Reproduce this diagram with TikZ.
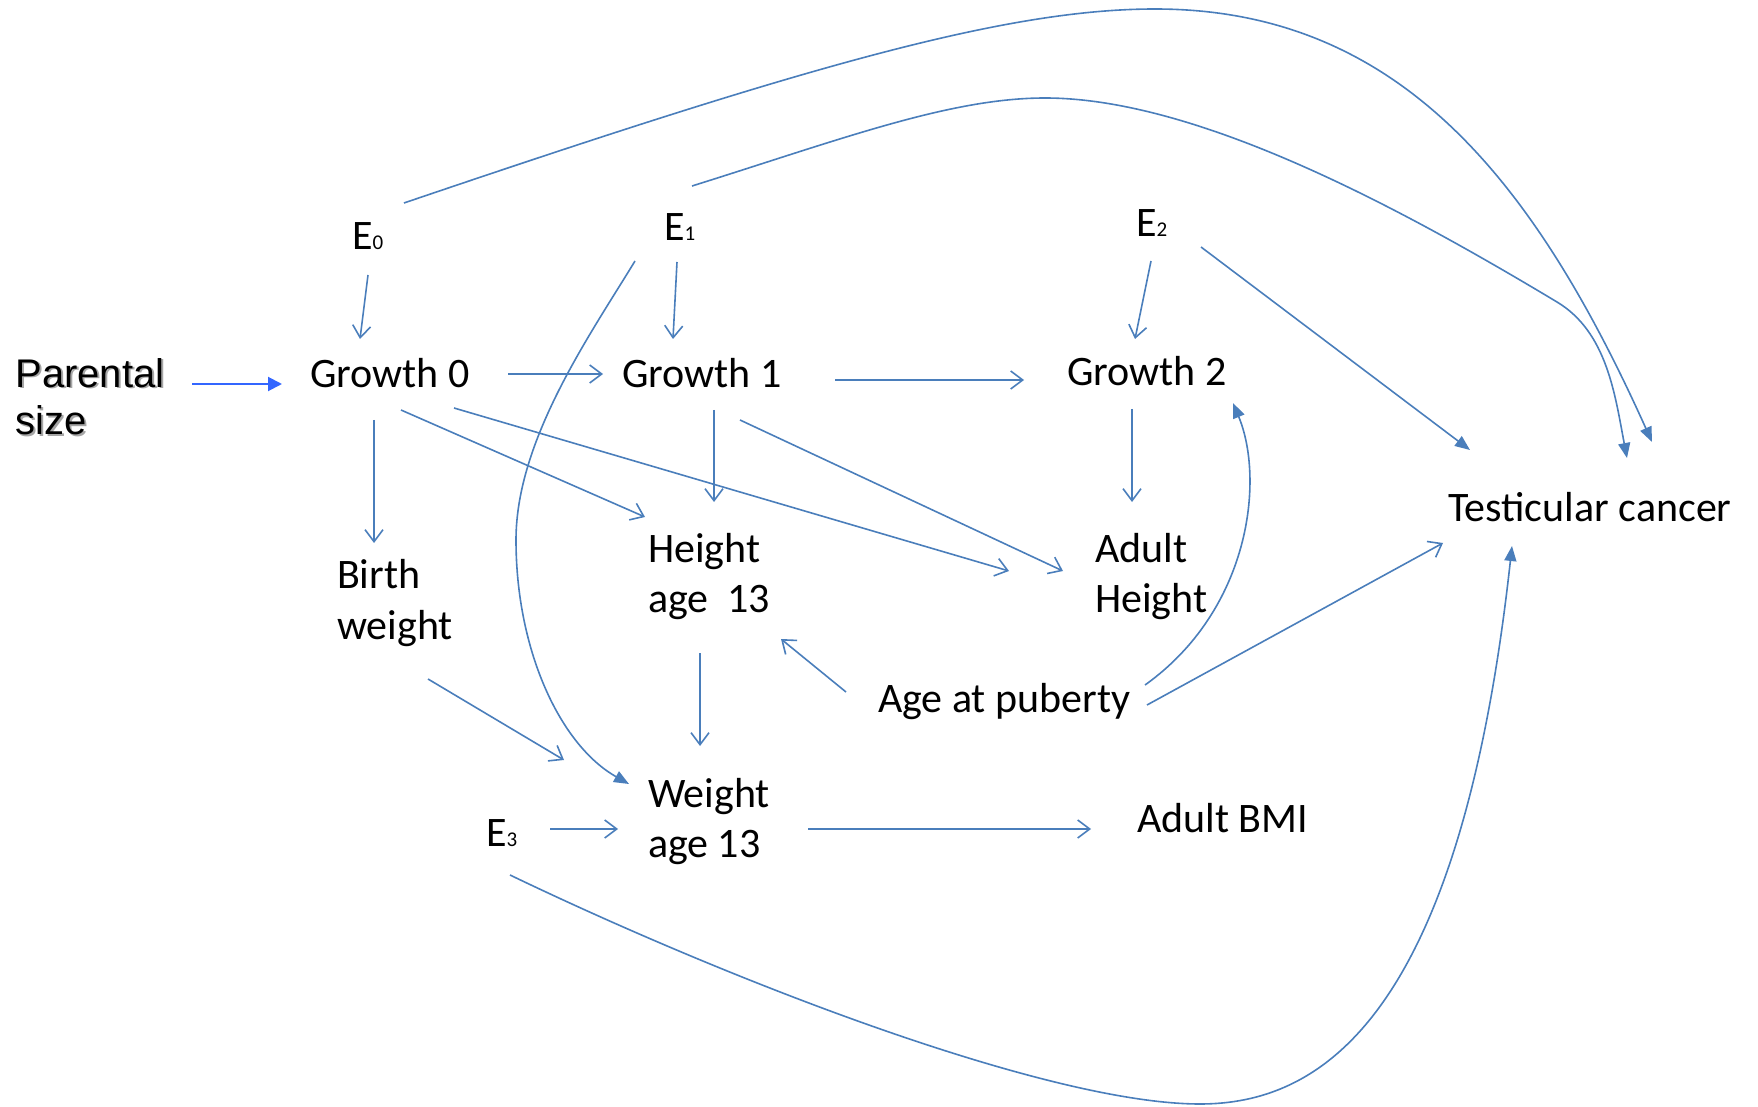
\documentclass[tikz,border=0pt]{standalone}
\usepackage{fontspec}
\setmainfont{Carlito}
\newfontfamily\arialfont{Liberation Sans}
\usetikzlibrary{arrows.meta}
\definecolor{linkblue}{HTML}{4A7EBB}
\definecolor{brightblue}{HTML}{3366FF}
% E with a small index digit sitting on the baseline
\newcommand{\Eidx}[1]{E{\fontsize{10.5}{12}\selectfont #1}}
\tikzset{
  lbl/.style={anchor=base west, inner sep=0pt, outer sep=0pt, align=left,
              font=\fontsize{21}{25}\selectfont},
  link/.style={draw=linkblue, line width=0.8pt},
  openarr/.style={link, -{Straight Barb[length=6pt,width=9pt]}},
  fillarr/.style={link, -{Triangle[length=7.5pt,width=6pt]}},
}
\begin{document}
\begin{tikzpicture}[x=0.5pt,y=-0.5pt]
\useasboundingbox (0,0) rectangle (1758,1107);

% ---- labels (two-line labels are placed at the baseline of their last line)
\node[anchor=base west, inner sep=0pt, align=left, text=black!35,
      font=\arialfont\fontsize{20}{24}\selectfont] at (17,437) {Parental\\size};
\node[anchor=base west, inner sep=0pt, align=left,
      font=\arialfont\fontsize{20}{24}\selectfont] (par) at (15,435) {Parental\\size};

\node[lbl] (e0) at (352,250) {\Eidx{0}};
\node[lbl] (e1) at (664,241) {\Eidx{1}};
\node[lbl] (e2) at (1136,237) {\Eidx{2}};
\node[lbl] (e3) at (486,846) {\Eidx{3}};

\node[lbl] (g0) at (310,387) {Growth 0};
\node[lbl] (g1) at (622,387) {Growth 1};
\node[lbl] (g2) at (1067,386) {Growth 2};

\node[lbl] (bw)  at (337,639) {Birth\\weight};
\node[lbl] (h13) at (648,612) {Height\\age\ \ 13};
\node[lbl] (ah)  at (1095,612) {Adult\\Height};
\node[lbl] (ap)  at (878,712) {Age at puberty};
\node[lbl] (w13) at (648,857) {Weight\\age 13};
\node[lbl] (bmi) at (1137,832) {Adult BMI};
\node[lbl] (tc)  at (1448,522) {Testicular cancer};

% ---- connector end points ----------------------------------------
\coordinate (par-o) at (192,384);  \coordinate (g0-i) at (282,384);
\coordinate (e0-o) at (368,275);   \coordinate (g0-t) at (360,339);
\coordinate (g0-r) at (508,374);   \coordinate (g1-l) at (603,374);
\coordinate (g1-r) at (835,380);   \coordinate (g2-l) at (1024,380);
\coordinate (e1-o) at (677,262);   \coordinate (g1-t) at (673,339);
\coordinate (e2-o) at (1151,261);  \coordinate (g2-t) at (1135,339);
\coordinate (g0-b) at (374,420);   \coordinate (bw-t) at (374,543);
\coordinate (g0-br) at (401,410);  \coordinate (h13-tl) at (645,517);
\coordinate (g0-rr) at (454,408);  \coordinate (ah-l1) at (1009,571);
\coordinate (g1-b) at (714,410);   \coordinate (h13-t) at (714,502);
\coordinate (g1-br) at (740,420);  \coordinate (ah-l2) at (1063,571);
\coordinate (g2-b) at (1132,409);  \coordinate (ah-t) at (1132,502);
\coordinate (bw-b) at (428,679);   \coordinate (w13-tl) at (564,760);
\coordinate (h13-b) at (700,653);  \coordinate (w13-t) at (700,746);
\coordinate (ap-l) at (846,692);   \coordinate (h13-br) at (781,639);
\coordinate (e3-r) at (550,829);   \coordinate (w13-l) at (618,829);
\coordinate (w13-r) at (808,829);  \coordinate (bmi-l) at (1091,829);
\coordinate (e1-c) at (635,261);   \coordinate (w13-c) at (629,784);
\coordinate (e0-c) at (404,203);   \coordinate (tc-t1) at (1652,442);
\coordinate (e1-u) at (692,186);   \coordinate (tc-t2) at (1627,458);
\coordinate (e2-r) at (1201,247);  \coordinate (tc-tl) at (1470,450);
\coordinate (ap-r) at (1147,705);  \coordinate (tc-bl) at (1443,543);
\coordinate (ap-ru) at (1145,685); \coordinate (g2-br) at (1233,403);
\coordinate (e3-b) at (510,875);   \coordinate (tc-b) at (1512,546);

% ---- straight connectors -----------------------------------------
\draw[draw=brightblue, line width=1pt, -{Triangle[length=7pt,width=7pt]}]
  (par-o) -- (g0-i);
\draw[openarr] (e0-o) -- (g0-t);
\draw[openarr] (g0-r) -- (g1-l);
\draw[openarr] (g1-r) -- (g2-l);
\draw[openarr] (e1-o) -- (g1-t);
\draw[openarr] (e2-o) -- (g2-t);
\draw[openarr] (g0-b) -- (bw-t);
\draw[openarr] (g0-br) -- (h13-tl);
\draw[openarr] (g0-rr) -- (ah-l1);
\draw[openarr] (g1-b) -- (h13-t);
\draw[openarr] (g1-br) -- (ah-l2);
\draw[openarr] (g2-b) -- (ah-t);
\draw[openarr] (bw-b) -- (w13-tl);
\draw[openarr] (h13-b) -- (w13-t);
\draw[openarr] (ap-l) -- (h13-br);
\draw[openarr] (e3-r) -- (w13-l);
\draw[openarr] (w13-r) -- (bmi-l);
\draw[openarr] (ap-r) -- (tc-bl);
\draw[fillarr] (e2-r) -- (tc-tl);

% ---- curved connectors -------------------------------------------
\draw[fillarr] (e1-c) .. controls (590,335) and (516,440) .. (516,540)
  .. controls (516,650) and (560,745) .. (w13-c);
\draw[fillarr] (e0-c) .. controls (804,67) and (1005,9) .. (1155,9)
  .. controls (1400,9) and (1535,182) .. (tc-t1);
\draw[fillarr] (e1-u) .. controls (842,139) and (950,98) .. (1045,98)
  .. controls (1200,98) and (1407,212) .. (1557,302)
  .. controls (1607,332) and (1615,395) .. (tc-t2);
\draw[fillarr] (ap-ru) .. controls (1250,610) and (1265,480) .. (g2-br);
\draw[fillarr] (e3-b) .. controls (735,983) and (1050,1104) .. (1200,1104)
  .. controls (1320,1104) and (1460,1020) .. (tc-b);
\end{tikzpicture}
\end{document}
